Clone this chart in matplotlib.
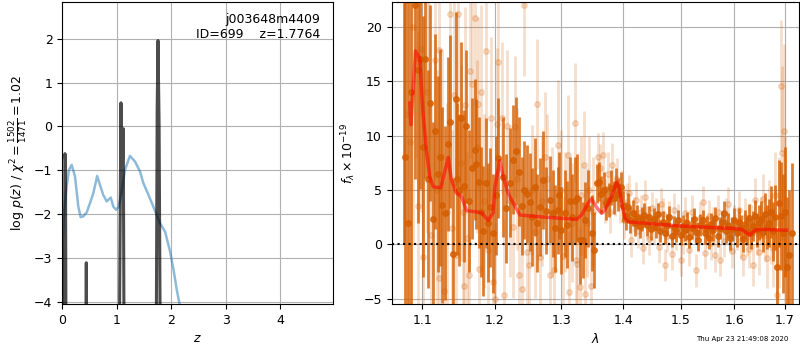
import matplotlib
matplotlib.use("Agg")
import matplotlib.pyplot as plt
from matplotlib.ticker import NullLocator, FixedLocator, FixedFormatter

plt.rcParams['font.family'] = ['DejaVu Sans']
plt.rcParams['font.size'] = 9

# ---------------- left panel data: log p(z) ----------------
pdf_z = [0.0, 0.03, 0.049, 0.058, 0.07, 0.43, 0.44, 0.45,
         1.04, 1.076, 1.09, 1.118, 1.135,
         1.72, 1.74, 1.755, 1.775, 1.80, 4.97]
pdf_logp = [-6, -6, -0.62, -0.8, -6, -6, -3.11, -6,
            -6, 0.54, -1.5, -0.05, -6,
            -6, 0.4, 1.96, 0.05, -6, -6]

prior_z = [0.0, 0.007, 0.03, 0.08, 0.12, 0.172, 0.233, 0.294, 0.337, 0.385,
           0.447, 0.508, 0.569, 0.64, 0.69, 0.75, 0.815, 0.888, 0.936, 0.985,
           1.03, 1.08, 1.15, 1.24, 1.334, 1.426, 1.486, 1.58, 1.67, 1.79,
           1.885, 1.976, 2.04, 2.10, 2.147, 2.2]
prior_logp = [-4.1, -2.66, -1.97, -1.37, -1.0, -0.875, -1.14, -1.83, -2.07, -2.05,
              -1.96, -1.75, -1.52, -1.13, -1.33, -1.56, -1.71, -1.62, -1.83, -1.90,
              -1.84, -1.55, -0.99, -0.67, -0.80, -1.03, -1.29, -1.56, -1.83, -2.2,
              -2.40, -2.85, -3.27, -3.73, -4.03, -4.5]

# ---------------- right panel data: spectrum ----------------
d_wave = [1.076, 1.078, 1.082, 1.086, 1.090, 1.094, 1.097, 1.101, 1.104, 1.108, 1.111,
          1.115, 1.117, 1.121, 1.124, 1.127, 1.130, 1.134, 1.138, 1.141, 1.145,
          1.147, 1.150, 1.153, 1.157, 1.160, 1.164, 1.1675, 1.172, 1.174, 1.177,
          1.180, 1.183, 1.188, 1.191, 1.194, 1.198,
          1.2015, 1.2055, 1.2115, 1.216, 1.222, 1.2269, 1.2318, 1.235, 1.2395, 1.243,
          1.247, 1.252, 1.2555, 1.259, 1.263, 1.267, 1.272, 1.277, 1.282, 1.287,
          1.290, 1.294, 1.297, 1.300, 1.305, 1.309, 1.313, 1.317, 1.321, 1.325,
          1.329, 1.334, 1.338, 1.342, 1.348, 1.352,
          1.356, 1.360, 1.364, 1.368, 1.372, 1.376, 1.380, 1.384, 1.388, 1.392,
          1.396, 1.400, 1.404, 1.408, 1.412, 1.416, 1.420, 1.424, 1.428, 1.432,
          1.436, 1.440, 1.444, 1.448, 1.452, 1.456, 1.460, 1.464, 1.468, 1.472,
          1.476, 1.480, 1.484, 1.488, 1.492, 1.496, 1.500, 1.504, 1.508, 1.512,
          1.516, 1.520, 1.524, 1.528, 1.532, 1.536, 1.540, 1.544, 1.548, 1.552,
          1.556, 1.560, 1.564, 1.568, 1.572, 1.576, 1.580, 1.584, 1.588, 1.592,
          1.596, 1.600, 1.604, 1.608, 1.612, 1.616, 1.620, 1.624, 1.628, 1.632,
          1.636, 1.640, 1.644, 1.648, 1.652, 1.656, 1.660, 1.664, 1.668, 1.672,
          1.676, 1.680, 1.684, 1.688, 1.692, 1.696, 1.700, 1.705, 1.709, 1.7135]
d_flux = [30.0, 8.0, 2.0, 14.0, 22.0, 16.0, 17.1, 9.0, 17.1, 6.0, 13.0,
          2.3, 10.4, 6.5, 8.0, 3.6, 2.9, 9.2, 11.3, -0.9, 13.4,
          6.0, 5.0, 11.65, 5.4, 10.85, 4.0, 7.0, 8.7, 7.4, 5.7,
          3.0, 1.25, 5.65, 2.0, 3.4, 1.0,
          4.5, 7.94, 6.2, 3.3, 5.67, 7.79, 8.6, 6.7, 3.5, 5.0,
          4.6, 3.9, 2.5, 5.3, 2.0, 3.4, 5.9, 3.1, 4.1, 2.84,
          1.5, 3.14, 4.5, 1.31, 2.84, 1.8, 4.0, 2.5, 4.0, 4.3,
          0.39, 0.39, 2.2, 3.3, 1.06, -0.5,
          5.6, 5.76, 4.6, 5.0, 3.8, 4.07, 5.2, 4.3, 5.5, 4.6,
          5.3, 3.5, 2.6, 3.4, 2.2, 2.9, 2.0, 2.5, 1.7, 2.3,
          2.7, 1.8, 2.5, 1.4, 2.3, 1.6, 2.8, 1.2, 2.1, 1.0,
          1.8, 2.5, 0.8, 1.6, 1.2, 2.2, 0.9, 1.7, 1.3, 2.0,
          0.7, 1.5, 2.3, 1.1, 0.4, 1.8, 2.2, 1.0, 1.6, 0.6,
          1.9, 1.3, 2.4, 0.8, 1.5, 2.1, 2.9, 1.2, 1.8, 0.6,
          1.4, 2.2, 1.0, 2.1, 1.5, 0.5, 1.9, 1.2, 2.4, 1.0,
          1.7, 2.6, 1.3, 2.0, 2.3, 1.1, 2.8, 1.6, 2.0, 3.0,
          1.2, 2.5, -2.1, 3.8, 2.6, 1.0, 3.0, -2.1, -1.0, 1.0]
d_err = [30, 25, 25, 20, 16, 14, 12, 12, 11, 10, 9,
         9, 9, 9, 10, 9, 8, 8, 8, 7, 8,
         7, 7, 7, 7, 7, 6.5, 6.5, 6.5, 6, 6,
         6, 6, 6, 5.5, 5.5, 5.5,
         5.5, 5.5, 5.5, 5, 5, 5, 5, 5, 4.5, 4.5,
         4.5, 4.5, 4.5, 4.5, 4.5, 4.5, 4.5, 4, 4, 4,
         4, 4, 4, 4, 4, 4, 4, 4, 4, 4,
         4, 3.5, 3.5, 3.5, 3.5, 3.5,
         1.8, 1.8, 1.7, 1.7, 1.6, 1.6, 1.6, 1.5, 1.5, 1.5,
         1.4, 1.4, 1.3, 1.3, 1.2, 1.2, 1.2, 1.1, 1.1, 1.1,
         1.1, 1.0, 1.0, 1.0, 1.0, 1.0, 1.0, 1.0, 1.0, 1.0,
         1.0, 1.0, 1.0, 1.0, 1.0, 1.0, 1.0, 1.0, 1.0, 1.0,
         1.0, 1.0, 1.0, 1.0, 1.0, 1.0, 1.0, 1.0, 1.0, 1.0,
         1.0, 1.0, 1.0, 1.0, 1.0, 1.0, 1.1, 1.1, 1.1, 1.1,
         1.1, 1.1, 1.2, 1.2, 1.2, 1.2, 1.3, 1.3, 1.3, 1.4,
         1.4, 1.5, 1.5, 1.6, 1.7, 1.8, 1.9, 2.0, 2.2, 2.4,
         2.7, 3.0, 3.5, 4.0, 5.0, 5.5, 6.0, 6.5, 6.0, 6.5]

l_wave = [1.080, 1.084, 1.088, 1.092, 1.095, 1.099, 1.101, 1.106, 1.109, 1.112,
          1.117, 1.120, 1.122, 1.123, 1.126, 1.129, 1.133, 1.137, 1.140, 1.143,
          1.146, 1.149, 1.152, 1.155, 1.157, 1.158, 1.161, 1.164, 1.165, 1.168,
          1.172, 1.175, 1.176, 1.178, 1.181, 1.185, 1.188, 1.191, 1.195, 1.198,
          1.200, 1.2035, 1.2055, 1.210, 1.213, 1.218, 1.2225, 1.227, 1.229, 1.233,
          1.235, 1.240, 1.243, 1.247, 1.251, 1.255, 1.260, 1.263, 1.2665, 1.270,
          1.274, 1.278, 1.282, 1.286, 1.289, 1.295, 1.299, 1.302, 1.306, 1.310,
          1.312, 1.316, 1.321, 1.323, 1.325, 1.329, 1.331, 1.336, 1.337, 1.341,
          1.344, 1.347, 1.351,
          1.358, 1.362, 1.366, 1.370, 1.374, 1.378, 1.382, 1.386, 1.390, 1.394,
          1.398, 1.402, 1.406, 1.410, 1.414, 1.418, 1.422, 1.426, 1.430, 1.434,
          1.437, 1.441, 1.445, 1.449, 1.453, 1.457, 1.461, 1.465, 1.469, 1.472,
          1.476, 1.480, 1.484, 1.488, 1.492, 1.496, 1.500, 1.504, 1.508, 1.512,
          1.516, 1.520, 1.524, 1.528, 1.532, 1.536, 1.540, 1.544, 1.548, 1.552,
          1.556, 1.560, 1.564, 1.568, 1.572, 1.576, 1.580, 1.584, 1.588, 1.592,
          1.596, 1.600, 1.604, 1.608, 1.612, 1.616, 1.620, 1.624, 1.628, 1.632,
          1.636, 1.640, 1.644, 1.648, 1.652, 1.656, 1.660, 1.664, 1.668, 1.672,
          1.676, 1.680, 1.684, 1.688, 1.692, 1.695, 1.698, 1.701]
l_flux = [12, 9.4, 20, 26, 3.5, 18, -1.2, 14.0, 24, 0.9,
          16.97, 5, 17.9, -3.1, 8, -4.3, 3.0, 21.2, 1.5, 13.75,
          -1, 21.2, 7.5, 3, -3.8, 12.8, 0.6, -2.8, 15.97, 14.8,
          20.8, 9, 12.9, -2.3, 14.0, 4, 17.8, -0.5, 11.6, -3.5,
          -5.0, 11.1, 16.8, 11.65, -4.7, 10.85, 4, 1.6, 10.8, 6,
          -2.8, -4.1, 22.0, -0.68, -1.9, 5, 1.1, 12.9, -1.2, 4,
          8, 6, -2.8, 3, -2.4, 9.1, 5, -1.1, 3, 8.2,
          -4.4, 2, 11.2, -1.4, -1.8, -3.9, 4.5, 7.3, -4.6, 2,
          5, -3.8, 3,
          8.0, 7.0, 8.2, 4.0, 6.5, 3.0, 7.3, 4.5, 6.0, 3.8,
          5.0, 2.2, 3.9, 4.7, 0.4, 2.8, 4.1, 1.2, 3.0, -0.3,
          4.4, 2.0, 0.5, 3.3, 1.5, 2.8, -0.2, 3.7, 2.8, -1.9,
          0.8, 2.5, -0.9, 3.2, 1.0, 2.2, -1.4, 0.6, 2.9, 1.4,
          -0.5, 3.0, 1.7, -2.4, 1.0, 2.4, 3.9, -0.8, 1.2, 2.6,
          0.1, 1.9, -1.0, 3.0, -1.4, 1.6, 0.3, 2.7, 3.7, 0.9,
          -0.6, 2.0, 1.2, 3.2, 0.4, -1.2, 2.5, 0.7, -0.4, 1.8,
          -1.9, 4.1, 1.0, -0.7, 2.2, 4.2, 0.9, -1.3, 3.0, 1.4,
          -0.3, 4.5, -4.7, 2.0, 14.6, 8.4, 10.4, 1.0]
l_err = [25, 22, 20, 18, 16, 15, 14, 13, 12, 12,
         11, 11, 11, 10, 10, 10, 10, 10, 9, 9,
         9, 9, 9, 9, 9, 9, 8, 8, 8, 8,
         8, 8, 8, 8, 8, 8, 7.5, 7.5, 7.5, 7.5,
         7, 7, 7, 7, 7, 7, 7, 6.5, 6.5, 6.5,
         6.5, 6.5, 6.5, 6, 6, 6, 6, 6, 6, 6,
         6, 6, 6, 6, 6, 6, 5.5, 5.5, 5.5, 5.5,
         5.5, 5.5, 5.5, 5.5, 5.5, 5.5, 5.5, 5, 5, 5,
         5, 5, 5,
         2.2, 2.2, 2.1, 2.0, 2.0, 2.0, 2.0, 1.9, 1.9, 1.8,
         1.8, 1.7, 1.7, 1.7, 1.6, 1.6, 1.6, 1.5, 1.5, 1.5,
         1.5, 1.5, 1.5, 1.5, 1.5, 1.5, 1.5, 1.5, 1.5, 1.5,
         1.5, 1.5, 1.5, 1.5, 1.5, 1.5, 1.5, 1.5, 1.5, 1.5,
         1.5, 1.5, 1.5, 1.5, 1.5, 1.5, 1.5, 1.5, 1.5, 1.5,
         1.5, 1.5, 1.5, 1.5, 1.5, 1.5, 1.5, 1.6, 1.6, 1.6,
         1.6, 1.6, 1.7, 1.7, 1.7, 1.7, 1.8, 1.8, 1.8, 1.9,
         1.9, 2.0, 2.0, 2.1, 2.2, 2.3, 2.5, 2.7, 2.9, 3.2,
         3.6, 4.0, 5, 6, 6, 8, 8, 9]

m_wave = [1.0839, 1.0852, 1.0913, 1.0970, 1.1009, 1.1058, 1.1102, 1.1146, 1.1250,
          1.1349, 1.1395, 1.1464, 1.1533, 1.1602, 1.1719, 1.1813, 1.1907, 1.1978,
          1.2003, 1.2076, 1.2123, 1.2196, 1.2269, 1.2369, 1.2746, 1.3239, 1.3319,
          1.3424, 1.3479, 1.3561, 1.3643, 1.3698, 1.3808, 1.3891, 1.3930, 1.3975,
          1.4031, 1.4086, 1.4370, 1.4956, 1.5350, 1.5944, 1.6137, 1.6300, 1.6398,
          1.6530, 1.7035]
m_flux = [13.0, 11.0, 17.8, 17.1, 12.3, 8.6, 6.2, 5.3, 5.2,
          8.0, 5.9, 4.7, 4.4, 3.1, 3.0, 2.9, 2.2, 2.9,
          5.3, 7.7, 6.2, 4.7, 3.8, 2.7, 2.5, 2.3, 2.7,
          3.8, 4.2, 3.4, 2.85, 3.15, 4.4, 5.7, 5.3, 3.8,
          2.4, 2.07, 1.95, 1.7, 1.6, 1.47, 1.38, 0.85, 1.3,
          1.38, 1.3]

x_ticks = [1.1, 1.2, 1.3, 1.4, 1.5, 1.6, 1.7]
x_tick_labels = ['1.1', '1.2', '1.3', '1.4', '1.5', '1.6', '1.7']

grism_color = '#d55e00'

fig = plt.figure(figsize=(8, 3.5), dpi=100)

# ---------------- left panel ----------------
ax1 = fig.add_axes([62.3 / 800, 1 - 304 / 350, 271 / 800, 302 / 350])
ax1.plot(prior_z, prior_logp, color='tab:blue', alpha=0.5, lw=1.8)
ax1.plot(pdf_z, pdf_logp, color='k', alpha=0.7, lw=2.2)
ax1.set_xlim(0, 4.97)
ax1.set_ylim(-4.05, 2.84)
ax1.set_xticks([0, 1, 2, 3, 4])
ax1.set_yticks([-4, -3, -2, -1, 0, 1, 2])
ax1.grid(True)
ax1.set_xlabel('$z$')
ax1.set_ylabel(r'$\log\,p(z)$ / $\chi^2=\frac{1502}{1471}=1.02$')
ax1.text(0.95, 0.965, 'j003648m4409\nID=699    z=1.7764', ha='right', va='top',
         transform=ax1.transAxes, fontsize=9)

# ---------------- right panel ----------------
ax2 = fig.add_axes([391.5 / 800, 1 - 304 / 350, 407.5 / 800, 302 / 350])
ax2.errorbar(l_wave, l_flux, yerr=l_err, fmt='o', color=grism_color, alpha=0.2,
             markersize=4, elinewidth=2, capsize=0, linestyle='none')
ax2.errorbar(d_wave, d_flux, yerr=d_err, fmt='o', color=grism_color, alpha=0.8,
             markersize=4, elinewidth=2, capsize=0, linestyle='none')
ax2.plot(m_wave, m_flux, color='r', alpha=0.55, lw=2.5, zorder=10)
ax2.axhline(0, color='k', ls=':', lw=1.5, zorder=11)
ax2.set_xscale('log')
ax2.set_xlim(1.0603, 1.7289)
ax2.set_ylim(-5.49, 22.3)
ax2.xaxis.set_major_locator(FixedLocator(x_ticks))
ax2.xaxis.set_major_formatter(FixedFormatter(x_tick_labels))
ax2.xaxis.set_minor_locator(NullLocator())
ax2.set_yticks([-5, 0, 5, 10, 15, 20])
ax2.grid(True)
ax2.set_xlabel(r'$\lambda$')
ax2.set_ylabel(r'$f_\lambda\times10^{-19}$')

fig.text(0.985, 0.031, 'Thu Apr 23 21:49:08 2020', ha='right', va='center', fontsize=5)

fig.savefig('out.png', dpi=100)
